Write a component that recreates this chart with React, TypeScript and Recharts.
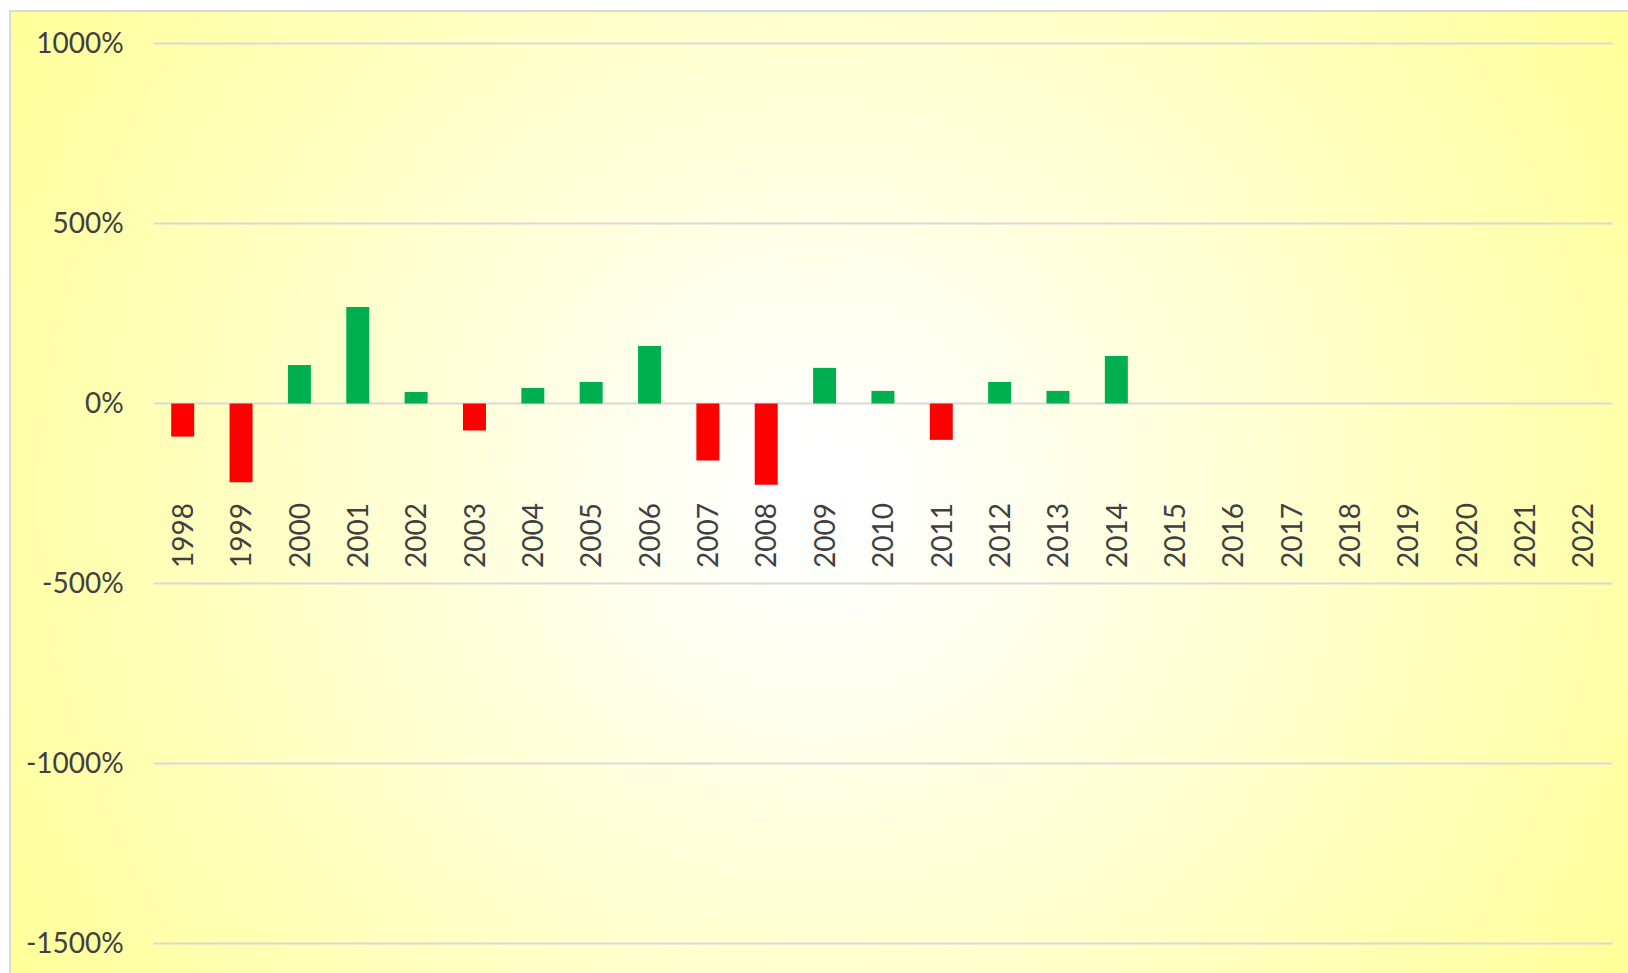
import React from 'react';
import { BarChart, Bar, XAxis, YAxis, CartesianGrid, Cell } from 'recharts';

const years = [
  '1998', '1999', '2000', '2001', '2002', '2003', '2004', '2005', '2006', '2007',
  '2008', '2009', '2010', '2011', '2012', '2013', '2014', '2015', '2016', '2017',
  '2018', '2019', '2020', '2021', '2022',
];

const changes: (number | null)[] = [
  -92, -219, 107, 268, 32, -75, 43, 60, 160, -158,
  -226, 99, 35, -101, 60, 35, 132, null, null, null,
  null, null, null, null, null,
];

const yTicks = [-1500, -1000, -500, 0, 500, 1000];

const data = years.map((year, i) => ({ year, change: changes[i] }));

const FONT = "Lato, 'Open Sans', sans-serif";
const TEXT = '#404040';
const POS = '#00B050';
const NEG = '#FF0000';
const LABEL_TOP = 503;

const XTick = (props: any) => {
  const { x, payload } = props;
  return (
    <text
      x={x}
      y={LABEL_TOP}
      transform={`rotate(-90, ${x}, ${LABEL_TOP})`}
      textAnchor="end"
      dy="0.36em"
      fill={TEXT}
      fontSize={28}
      fontFamily={FONT}
    >
      {payload.value}
    </text>
  );
};

export default function App() {
  return (
    <div
      style={{
        position: 'fixed',
        left: 0,
        top: 0,
        width: 1628,
        height: 973,
        background: '#ffffff',
        overflow: 'hidden',
      }}
    >
      <div
        style={{
          position: 'absolute',
          left: 9,
          top: 10,
          right: -2,
          bottom: -2,
          borderLeft: '2px solid #d9d9d9',
          borderTop: '2px solid #d9d9d9',
          background:
            'radial-gradient(circle 942px at 809px 482px, #ffffff 0%, #ffffff 6%, #ffff99 100%)',
        }}
      />
      <div style={{ position: 'absolute', left: 0, top: 0 }}>
        <BarChart
          width={1628}
          height={973}
          data={data}
          margin={{ top: 43.5, right: 15.5, bottom: 0, left: 0 }}
          barCategoryGap="30%"
        >
          <CartesianGrid vertical={false} stroke="#d9d9d9" strokeWidth={2} />
          <XAxis
            dataKey="year"
            height={29.5}
            axisLine={false}
            tickLine={false}
            interval={0}
            tick={<XTick />}
          />
          <YAxis
            width={153.7}
            domain={[-1500, 1000]}
            ticks={yTicks}
            axisLine={false}
            tickLine={false}
            tickSize={0}
            tickMargin={30}
            tickFormatter={(v: number) => `${v}%`}
            tick={{ fill: TEXT, fontSize: 28, fontFamily: FONT }}
          />
          <Bar dataKey="change" isAnimationActive={false}>
            {changes.map((v, i) => (
              <Cell key={i} fill={v !== null && v < 0 ? NEG : POS} />
            ))}
          </Bar>
        </BarChart>
      </div>
    </div>
  );
}
